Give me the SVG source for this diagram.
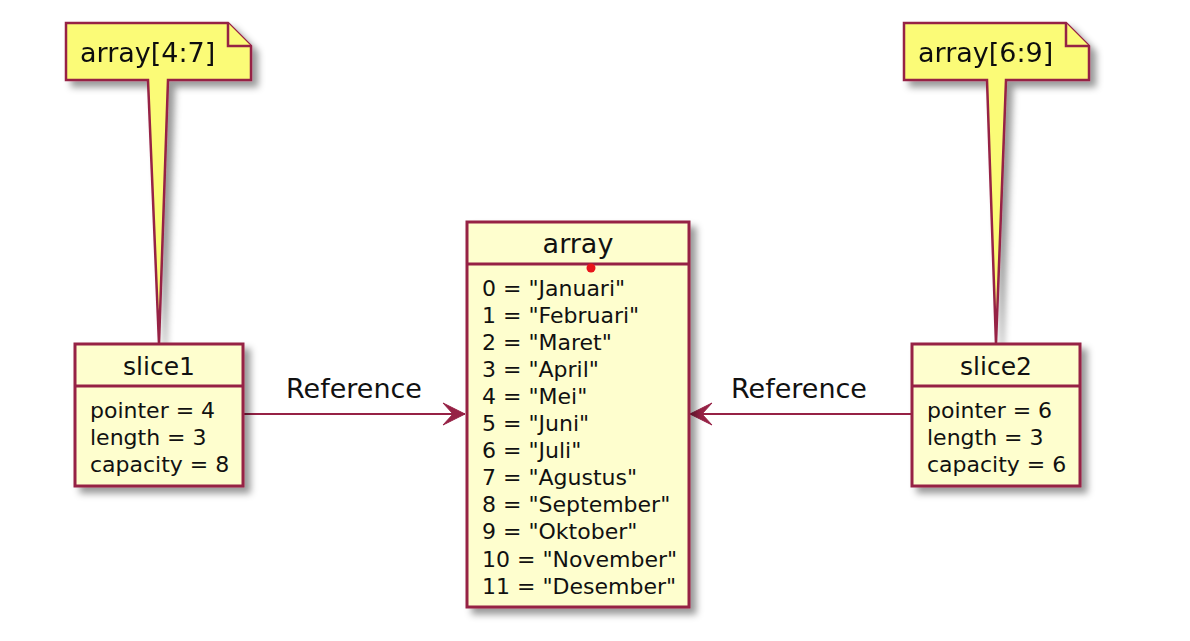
<svg xmlns="http://www.w3.org/2000/svg" width="1190" height="641" viewBox="0 0 1190 641">
<style>
.box{fill:#FEFECE;stroke:#962145;stroke-width:3}
.note{fill:#FBFB77;stroke:#962145;stroke-width:2.5}
.sep{stroke:#962145;stroke-width:3}
.link{stroke:#962145;stroke-width:2.2;fill:none}
text{font-family:"DejaVu Sans","Liberation Sans",sans-serif;fill:#111}
.title{font-size:25px;text-anchor:middle}
.atitle{font-size:27px;text-anchor:middle}
.field{font-size:22px}
.ntext{font-size:27px}
.lbl{font-size:27px}
</style>
<defs>
<filter id="sh" x="-20%" y="-20%" width="150%" height="150%">
<feGaussianBlur in="SourceAlpha" stdDeviation="3.5"/>
<feOffset dx="6" dy="6" result="b"/>
<feFlood flood-color="#000" flood-opacity="0.4"/>
<feComposite in2="b" operator="in"/>
<feMerge><feMergeNode/><feMergeNode in="SourceGraphic"/></feMerge>
</filter>
<marker id="arr" markerUnits="userSpaceOnUse" markerWidth="26" markerHeight="26" refX="24" refY="12" orient="auto">
<path d="M24,12 L2,1 L12,12 L2,23 Z" fill="#962145" stroke="#962145" stroke-width="1"/>
</marker>
</defs>

<g id="connectors">
<line class="link" x1="243" y1="414" x2="465" y2="414" marker-end="url(#arr)"/>
<text class="lbl" x="286" y="398">Reference</text>
<line class="link" x1="912" y1="414" x2="690" y2="414" marker-end="url(#arr)"/>
<text class="lbl" x="731" y="398">Reference</text>
</g>

<g id="note1" filter="url(#sh)">
<path class="note" d="M66,23 L228,23 L251,46 L251,80 L168,80 L159,344 L148,80 L66,80 Z"/>
<path class="note" d="M228,23 L228,46 L251,46"/>
<text class="ntext" x="80" y="62">array[4:7]</text>
</g>

<g id="note2" filter="url(#sh)">
<path class="note" d="M904,23 L1066,23 L1089,46 L1089,80 L1006,80 L996,344 L987,80 L904,80 Z"/>
<path class="note" d="M1066,23 L1066,46 L1089,46"/>
<text class="ntext" x="918" y="62">array[6:9]</text>
</g>

<g id="slice1">
<rect class="box" x="75" y="344" width="168" height="142" filter="url(#sh)"/>
<line class="sep" x1="75" y1="386" x2="243" y2="386"/>
<text class="title" x="159" y="375">slice1</text>
<text class="field" x="90" y="418">pointer = 4</text>
<text class="field" x="90" y="445">length = 3</text>
<text class="field" x="90" y="472">capacity = 8</text>
</g>

<g id="slice2">
<rect class="box" x="912" y="344" width="168" height="142" filter="url(#sh)"/>
<line class="sep" x1="912" y1="386" x2="1080" y2="386"/>
<text class="title" x="996" y="375">slice2</text>
<text class="field" x="927" y="418">pointer = 6</text>
<text class="field" x="927" y="445">length = 3</text>
<text class="field" x="927" y="472">capacity = 6</text>
</g>

<g id="array">
<rect class="box" x="467" y="222" width="222" height="385" filter="url(#sh)"/>
<line class="sep" x1="467" y1="264" x2="689" y2="264"/>
<text class="atitle" x="578" y="253">array</text>
<text class="field" x="482" y="296">0 = "Januari"</text>
<text class="field" x="482" y="323">1 = "Februari"</text>
<text class="field" x="482" y="350">2 = "Maret"</text>
<text class="field" x="482" y="377">3 = "April"</text>
<text class="field" x="482" y="404">4 = "Mei"</text>
<text class="field" x="482" y="431">5 = "Juni"</text>
<text class="field" x="482" y="458">6 = "Juli"</text>
<text class="field" x="482" y="485">7 = "Agustus"</text>
<text class="field" x="482" y="512">8 = "September"</text>
<text class="field" x="482" y="539">9 = "Oktober"</text>
<text class="field" x="482" y="567">10 = "November"</text>
<text class="field" x="482" y="594">11 = "Desember"</text>
<circle cx="591" cy="268" r="4.5" fill="#E8141B"/>
</g>
</svg>
